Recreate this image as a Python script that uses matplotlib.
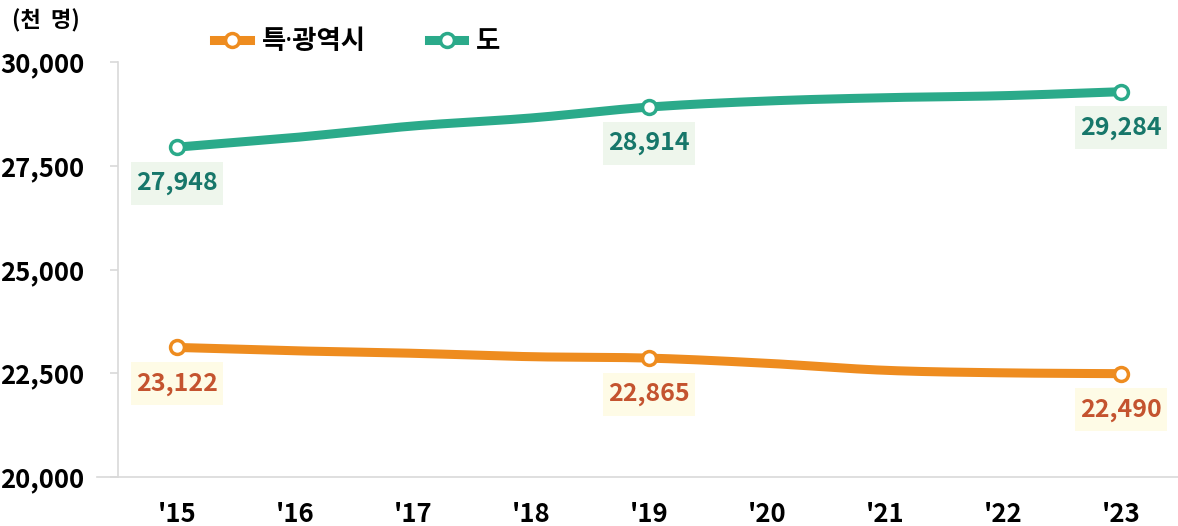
import numpy as np
import matplotlib
matplotlib.use("Agg")
from matplotlib import pyplot as plt
from matplotlib.lines import Line2D
from matplotlib.path import Path

plt.rcParams['font.family'] = ['Noto Sans CJK KR', 'DejaVu Sans']
plt.rcParams['font.weight'] = 'bold'

# data
years = ["'15", "'16", "'17", "'18", "'19", "'20", "'21", "'22", "'23"]
metro = [23122, 23041, 22981, 22899, 22865, 22740, 22571, 22510, 22490]
province = [27948, 28181, 28458, 28651, 28914, 29060, 29140, 29188, 29284]
label_idx = [0, 4, 8]
series_names = ['특·광역시', '도']

c_metro = '#EE8C1F'
c_prov = '#2BAA8A'
t_metro = '#C4532F'
t_prov = '#17776A'
bg_metro = '#FEFBE6'
bg_prov = '#EEF6EC'


def smooth(xs, ys, n=30):
    # excel-like smoothed line (bezier through points)
    pts = np.column_stack([xs, ys]).astype(float)
    P = np.vstack([pts[0], pts, pts[-1]])
    t = np.linspace(0, 1, n)[:, None]
    out = []
    for i in range(len(pts) - 1):
        p0, p1, p2, p3 = P[i], P[i + 1], P[i + 2], P[i + 3]
        c1 = p1 + (p2 - p0) / 6
        c2 = p2 - (p3 - p1) / 6
        seg = (1 - t) ** 3 * p1 + 3 * (1 - t) ** 2 * t * c1 + 3 * (1 - t) * t ** 2 * c2 + t ** 3 * p2
        out.append(seg if i == 0 else seg[1:])
    return np.vstack(out)


def label_box(x0, y0, width, height, mutation_size):
    # wider vertical padding than horizontal, like the excel label boxes
    px = 0.22 * mutation_size
    py = 0.38 * mutation_size
    x0, y0 = x0 - px, y0 - py
    x1, y1 = x0 + width + 2 * px, y0 + height + 2 * py
    return Path([(x0, y0), (x1, y0), (x1, y1), (x0, y1), (x0, y0)], closed=True)


fig = plt.figure(figsize=(11.78, 5.26), dpi=100)
ax = fig.add_axes([118 / 1178, 49 / 526, 1062 / 1178, 415 / 526])

x = np.arange(len(years))
for vals, col, tcol, bg in [(metro, c_metro, t_metro, bg_metro),
                            (province, c_prov, t_prov, bg_prov)]:
    s = smooth(x, vals)
    ax.plot(s[:, 0], s[:, 1], color=col, lw=6.5, solid_capstyle='round', zorder=3)
    ax.plot(x[label_idx], np.array(vals)[label_idx], 'o', ms=10, mfc='white',
            mec=col, mew=2.5, zorder=4, clip_on=False)
    for i in label_idx:
        ax.annotate(f'{vals[i]:,}', (x[i], vals[i]), xytext=(0, -26),
                    textcoords='offset points', ha='center', va='center',
                    fontsize=18, fontweight='bold', color=tcol, zorder=5,
                    bbox=dict(boxstyle=label_box, fc=bg, ec='none'))

ax.set_xlim(-0.5, 8.5)
ax.set_ylim(20000, 30000)
ax.set_yticks(np.arange(20000, 30001, 2500))
ax.yaxis.set_major_formatter(matplotlib.ticker.FuncFormatter(lambda v, p: f'{int(v):,}'))
ax.set_xticks(x)
ax.set_xticklabels(years)
ax.tick_params(axis='y', length=6, width=1.2, color='#D9D9D9', pad=18, labelsize=18.5)
ax.tick_params(axis='x', length=0, pad=17, labelsize=18.5)
for sp in ['top', 'right', 'bottom']:
    ax.spines[sp].set_visible(False)
ax.spines['left'].set_color('#D9D9D9')
ax.spines['left'].set_linewidth(1.2)
ax.plot([-0.02, 1], [0, 0], transform=ax.transAxes, color='#D9D9D9', lw=1.2,
        clip_on=False, zorder=2)

fig.text(12 / 1178, 1 - 21 / 526, '(천  명)', fontsize=16, fontweight='bold',
         ha='left', va='center')

handles = [Line2D([], [], color=c, lw=6.5, marker='o', ms=10, mfc='white', mec=c, mew=2.5)
           for c in (c_metro, c_prov)]
fig.legend(handles, series_names, loc='center left',
           bbox_to_anchor=(214 / 1178, 1 - 42 / 526), ncol=2, frameon=False,
           handlelength=1.35, handletextpad=0.45, columnspacing=2.4,
           borderpad=0, borderaxespad=0,
           prop={'weight': 'bold', 'size': 19, 'family': ['Noto Sans', 'Noto Sans CJK KR']})

plt.savefig('out.png', dpi=100)
